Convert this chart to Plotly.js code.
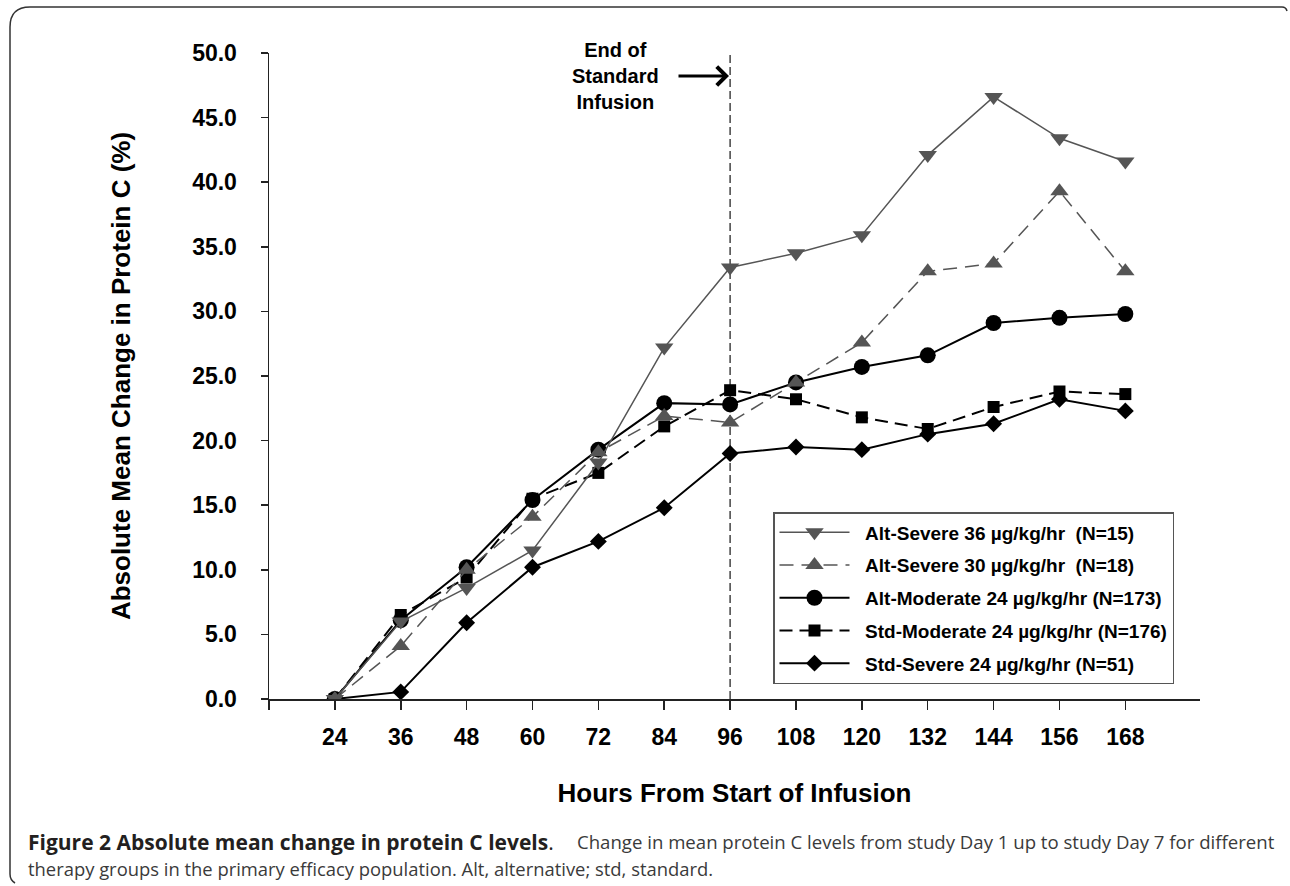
<!DOCTYPE html>
<html>
<head>
<meta charset="utf-8">
<script src="https://cdn.plot.ly/plotly-3.0.1.min.js"></script>
<style>
  html, body { margin: 0; padding: 0; background: #ffffff; }
  #chart { width: 1290px; height: 886px; }
</style>
</head>
<body>
<div id="chart"></div>
<script>
// ---------------- data ----------------
const hours = [24, 36, 48, 60, 72, 84, 96, 108, 120, 132, 144, 156, 168];
const tickValues = [12, 24, 36, 48, 60, 72, 84, 96, 108, 120, 132, 144, 156, 168];
const tickLabels = ['', '24', '36', '48', '60', '72', '84', '96', '108', '120', '132', '144', '156', '168'];

const altSevere36   = [0, 6.0, 8.6, 11.5, 18.3, 27.2, 33.4, 34.5, 35.9, 42.1, 46.6, 43.4, 41.6];
const altSevere30   = [0, 4.1, 10.0, 14.1, 19.1, 21.9, 21.4, 24.5, 27.6, 33.1, 33.7, 39.3, 33.1];
const altModerate24 = [0, 6.1, 10.2, 15.4, 19.3, 22.9, 22.8, 24.5, 25.7, 26.6, 29.1, 29.5, 29.8];
const stdModerate24 = [0, 6.5, 9.4, 15.5, 17.5, 21.1, 23.9, 23.2, 21.8, 20.9, 22.6, 23.8, 23.6];
const stdSevere24   = [0, 0.55, 5.9, 10.2, 12.2, 14.8, 19.0, 19.5, 19.3, 20.5, 21.3, 23.2, 22.3];

const seriesNames = [
  'Alt-Severe 36 µg/kg/hr  (N=15)',
  'Alt-Severe 30 µg/kg/hr  (N=18)',
  'Alt-Moderate 24 µg/kg/hr (N=173)',
  'Std-Moderate 24 µg/kg/hr (N=176)',
  'Std-Severe 24 µg/kg/hr (N=51)'
];
const endOfStandardInfusion = 96;

// ---------------- geometry helpers (layout only) ----------------
const W = 1290, H = 886;
const M = { l: 269, r: 90, t: 53, b: 187 };
const plotW = W - M.l - M.r, plotH = H - M.t - M.b;
const px = x => (x - M.l) / plotW;
const py = y => (H - M.b - y) / plotH;

const GRAY = '#555555';
const FONT = 'Liberation Sans, Arial, sans-serif';
const CAP = 'Open Sans, Noto Sans, sans-serif';

function trace(y, name, rank, symbol, size, color, lineW, dash) {
  return {
    x: hours, y: y, name: '\u00a0\u00a0' + name, type: 'scatter', mode: 'lines+markers',
    legendgroup: 'g' + rank, legendrank: rank,
    line: { color: color, width: lineW, dash: dash },
    marker: { symbol: symbol, size: size, color: color, line: { width: 0 } }
  };
}

// drawing order: bottom to top
const data = [
  trace(stdSevere24,   seriesNames[4], 5, 'diamond',       13, '#000000', 2,   'solid'),
  trace(stdModerate24, seriesNames[3], 4, 'square',        12, '#000000', 2,   '13px,7px'),
  trace(altModerate24, seriesNames[2], 3, 'circle',        16, '#000000', 2,   'solid'),
  trace(altSevere30,   seriesNames[1], 2, 'triangle-up',   16, GRAY,      1.5, '14px,8px'),
  trace(altSevere36,   seriesNames[0], 1, 'triangle-down', 16, GRAY,      1.5, 'solid')
];

function framePath() {
  return 'M' + px(1287) + ',' + py(11) +
         ' Q' + px(1286) + ',' + py(7) + ' ' + px(1282) + ',' + py(7) +
         ' L' + px(30) + ',' + py(7) +
         ' Q' + px(10) + ',' + py(7) + ' ' + px(10) + ',' + py(27) +
         ' L' + px(10) + ',' + py(874) +
         ' Q' + px(10) + ',' + py(880) + ' ' + px(15) + ',' + py(883);
}

const layout = {
  width: W, height: H,
  margin: M,
  paper_bgcolor: '#ffffff', plot_bgcolor: '#ffffff',
  font: { family: FONT, color: '#000000' },
  showlegend: true,
  xaxis: {
    range: [12, 181.6],
    tickmode: 'array', tickvals: tickValues, ticktext: tickLabels,
    showgrid: false, zeroline: false,
    showline: true, linecolor: '#222222', linewidth: 1.5,
    ticks: 'outside', ticklen: 9, tickwidth: 1.5, tickcolor: '#222222',
    tickfont: { family: FONT, size: 23, weight: 'bold', color: '#000000' },
    ticklabelstandoff: 8,
    title: { text: 'Hours From Start of Infusion', standoff: 34,
             font: { family: FONT, size: 26, weight: 'bold', color: '#000000' } },
    automargin: false
  },
  yaxis: {
    range: [0, 50], dtick: 5, tick0: 0, tickformat: '.1f',
    showgrid: false, zeroline: false,
    showline: true, linecolor: '#222222', linewidth: 1.5,
    ticks: 'outside', ticklen: 7, tickwidth: 1.5, tickcolor: '#222222',
    tickfont: { family: FONT, size: 23, weight: 'bold', color: '#000000' },
    ticklabelstandoff: 19,
    title: { text: 'Absolute Mean Change in Protein C (%)', standoff: 54,
             font: { family: FONT, size: 26, weight: 'bold', color: '#000000' } },
    automargin: false
  },
  legend: {
    x: px(773), y: py(512), xanchor: 'left', yanchor: 'top',
    bgcolor: '#ffffff', bordercolor: GRAY, borderwidth: 1.5,
    font: { family: FONT, size: 19, weight: 'bold', color: '#000000' },
    traceorder: 'grouped', tracegroupgap: 5,
    itemwidth: 70, itemclick: false
  },
  shapes: [
    { type: 'line', xref: 'x', yref: 'y', x0: endOfStandardInfusion, x1: endOfStandardInfusion,
      y0: 0, y1: 50, line: { color: '#444444', width: 1.5, dash: '8px,4px' }, layer: 'below' },
    { type: 'path', xref: 'paper', yref: 'paper', path: framePath(),
      line: { color: '#333333', width: 1.5 }, fillcolor: 'rgba(0,0,0,0)' }
  ],
  annotations: [
    { xref: 'paper', yref: 'paper', x: px(615), y: py(76), xanchor: 'center', yanchor: 'middle',
      text: 'End of<br>Standard<br>Infusion', showarrow: false, align: 'center',
      font: { family: FONT, size: 20, weight: 'bold', color: '#000000' } },
    { xref: 'paper', yref: 'paper', x: px(729), y: py(76), text: '', showarrow: true,
      axref: 'pixel', ayref: 'pixel', ax: -52, ay: 0, arrowhead: 4, arrowsize: 1.2,
      arrowwidth: 3, arrowcolor: '#000000', standoff: 0 },
    { xref: 'paper', yref: 'paper', x: px(26), y: py(842), xanchor: 'left', yanchor: 'middle',
      showarrow: false, align: 'left',
      text: '<b>Figure 2 Absolute mean change in protein C levels</b>.',
      font: { family: CAP, size: 21, color: '#231f20' } },
    { xref: 'paper', yref: 'paper', x: px(1277), y: py(842), xanchor: 'right', yanchor: 'middle',
      showarrow: false, align: 'right',
      text: 'Change in mean protein C levels from study Day 1 up to study Day 7 for different',
      font: { family: CAP, size: 18.6, color: '#3a3a3a' } },
    { xref: 'paper', yref: 'paper', x: px(26), y: py(868), xanchor: 'left', yanchor: 'middle',
      showarrow: false, align: 'left',
      text: 'therapy groups in the primary efficacy population. Alt, alternative; std, standard.',
      font: { family: CAP, size: 18.4, color: '#3a3a3a' } }
  ]
};

Plotly.newPlot('chart', data, layout, { displayModeBar: false, staticPlot: true });
</script>
</body>
</html>
